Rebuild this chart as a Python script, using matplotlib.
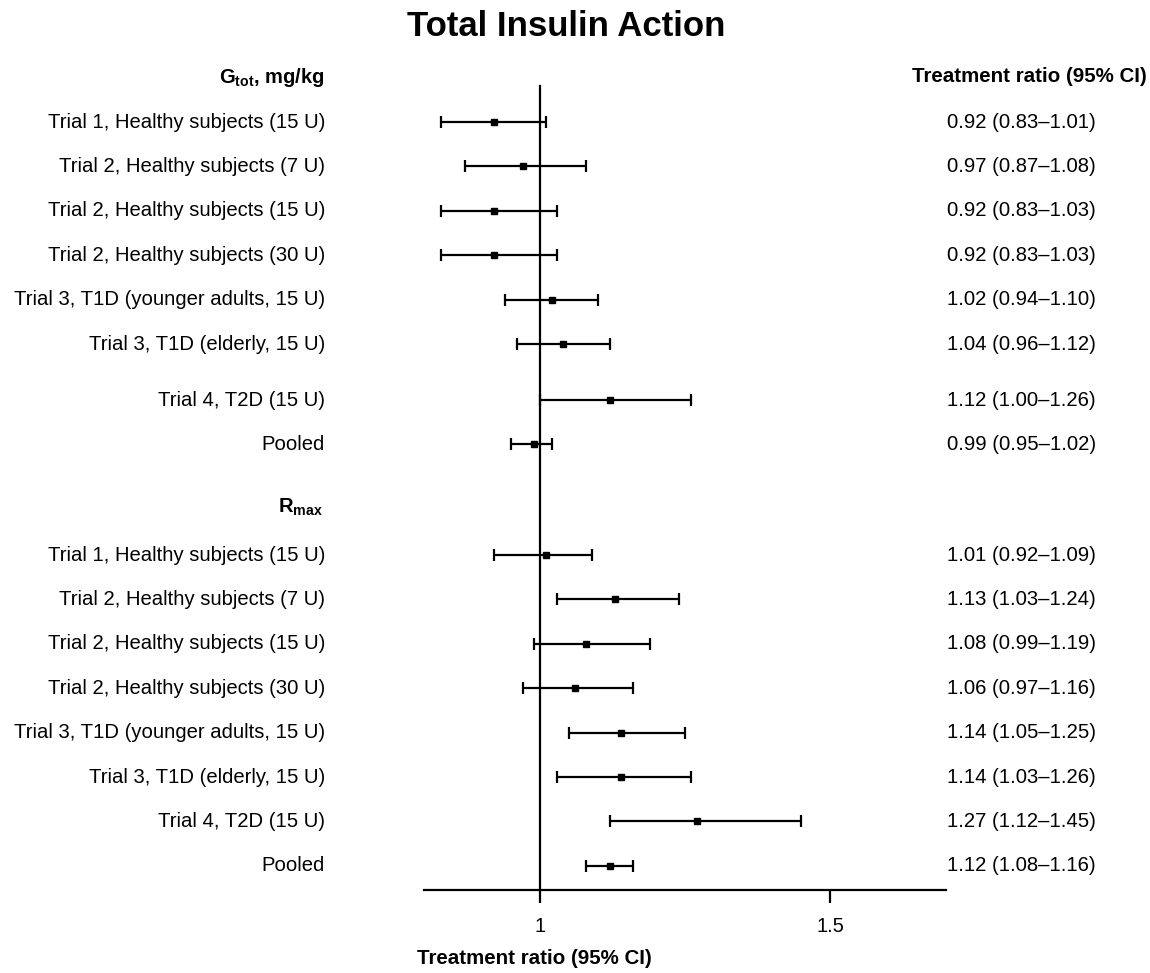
import matplotlib
matplotlib.use("Agg")
import matplotlib.pyplot as plt
from matplotlib.transforms import blended_transform_factory

plt.rcParams['font.family'] = ['Liberation Sans', 'DejaVu Sans']
plt.rcParams['mathtext.fontset'] = 'custom'
plt.rcParams['mathtext.rm'] = 'Liberation Sans'
plt.rcParams['mathtext.bf'] = 'Liberation Sans:bold'

# ---- data ----
labels = [
    "Trial 1, Healthy subjects (15 U)",
    "Trial 2, Healthy subjects (7 U)",
    "Trial 2, Healthy subjects (15 U)",
    "Trial 2, Healthy subjects (30 U)",
    "Trial 3, T1D (younger adults, 15 U)",
    "Trial 3, T1D (elderly, 15 U)",
    "Trial 4, T2D (15 U)",
    "Pooled",
]
gtot_est = [0.92, 0.97, 0.92, 0.92, 1.02, 1.04, 1.12, 0.99]
gtot_lo = [0.83, 0.87, 0.83, 0.83, 0.94, 0.96, 1.00, 0.95]
gtot_hi = [1.01, 1.08, 1.03, 1.03, 1.10, 1.12, 1.26, 1.02]

rmax_est = [1.01, 1.13, 1.08, 1.06, 1.14, 1.14, 1.27, 1.12]
rmax_lo = [0.92, 1.03, 0.99, 0.97, 1.05, 1.03, 1.12, 1.08]
rmax_hi = [1.09, 1.24, 1.19, 1.16, 1.25, 1.26, 1.45, 1.16]

xticks = [1, 1.5]
xtick_labels = ["1", "1.5"]

# ---- layout (pixel-based rows) ----
W, H = 1150, 973
fig = plt.figure(figsize=(W / 100, H / 100), dpi=100)
ax_left, ax_right, ax_top, ax_bot = 424, 946, 86, 890
ax = fig.add_axes([ax_left / W, 1 - ax_bot / H, (ax_right - ax_left) / W, (ax_bot - ax_top) / H])
ax.set_xlim(0.8, 1.7)
ax.set_ylim(ax_bot, ax_top)

step = 44.4
y_g = [122 + step * i for i in range(6)] + [400, 400 + step]
y_r = [555 + step * i for i in range(8)]

def draw(est, lo, hi, ys):
    for e, l, h, y in zip(est, lo, hi, ys):
        ax.errorbar([e], [y], xerr=[[e - l], [h - e]], fmt='s', color='black',
                    markersize=4.5, elinewidth=1.6, capsize=4, capthick=1.6)

draw(gtot_est, gtot_lo, gtot_hi, y_g)
draw(rmax_est, rmax_lo, rmax_hi, y_r)

# spines
for s in ['top', 'right']:
    ax.spines[s].set_visible(False)
ax.spines['left'].set_position(('data', 1))
ax.spines['left'].set_linewidth(1.6)
ax.spines['bottom'].set_linewidth(1.6)
ax.set_yticks([])
ax.set_xticks(xticks)
ax.set_xticklabels(xtick_labels, fontsize=14.5)
ax.tick_params(axis='x', length=9.5, width=1.6, direction='out', pad=10)

fs = 14.6
tr = blended_transform_factory(fig.transFigure, ax.transData)
for lab, y in zip(labels, y_g):
    ax.text(325 / W, y, lab, transform=tr, ha='right', va='center', fontsize=fs, clip_on=False)
for lab, y in zip(labels, y_r):
    ax.text(325 / W, y, lab, transform=tr, ha='right', va='center', fontsize=fs, clip_on=False)

def fmt(e, l, h):
    return f"{e:.2f} ({l:.2f}\u2013{h:.2f})"

for e, l, h, y in zip(gtot_est, gtot_lo, gtot_hi, y_g):
    ax.text(947 / W, y, fmt(e, l, h), transform=tr, ha='left', va='center', fontsize=fs, clip_on=False)
for e, l, h, y in zip(rmax_est, rmax_lo, rmax_hi, y_r):
    ax.text(947 / W, y, fmt(e, l, h), transform=tr, ha='left', va='center', fontsize=fs, clip_on=False)

# headers
fig.text(325 / W, 1 - 83 / H, r"$\mathbf{G_{tot}}$, mg/kg", ha='right', va='baseline',
         fontsize=14.5, fontweight='bold')
fig.text(323 / W, 1 - 513 / H, r"$\mathbf{R_{max}}$", ha='right', va='baseline',
         fontsize=14.5, fontweight='bold')
fig.text(1147 / W, 1 - 76 / H, "Treatment ratio (95% CI)", ha='right', va='center',
         fontsize=14.8, fontweight='bold')
fig.text(534 / W, 1 - 958 / H, "Treatment ratio (95% CI)", ha='center', va='center',
         fontsize=14.8, fontweight='bold')
fig.text(566 / W, 1 - 27 / H, "Total Insulin Action", ha='center', va='center',
         fontsize=25, fontweight='bold')

fig.savefig("out.png", dpi=100)
